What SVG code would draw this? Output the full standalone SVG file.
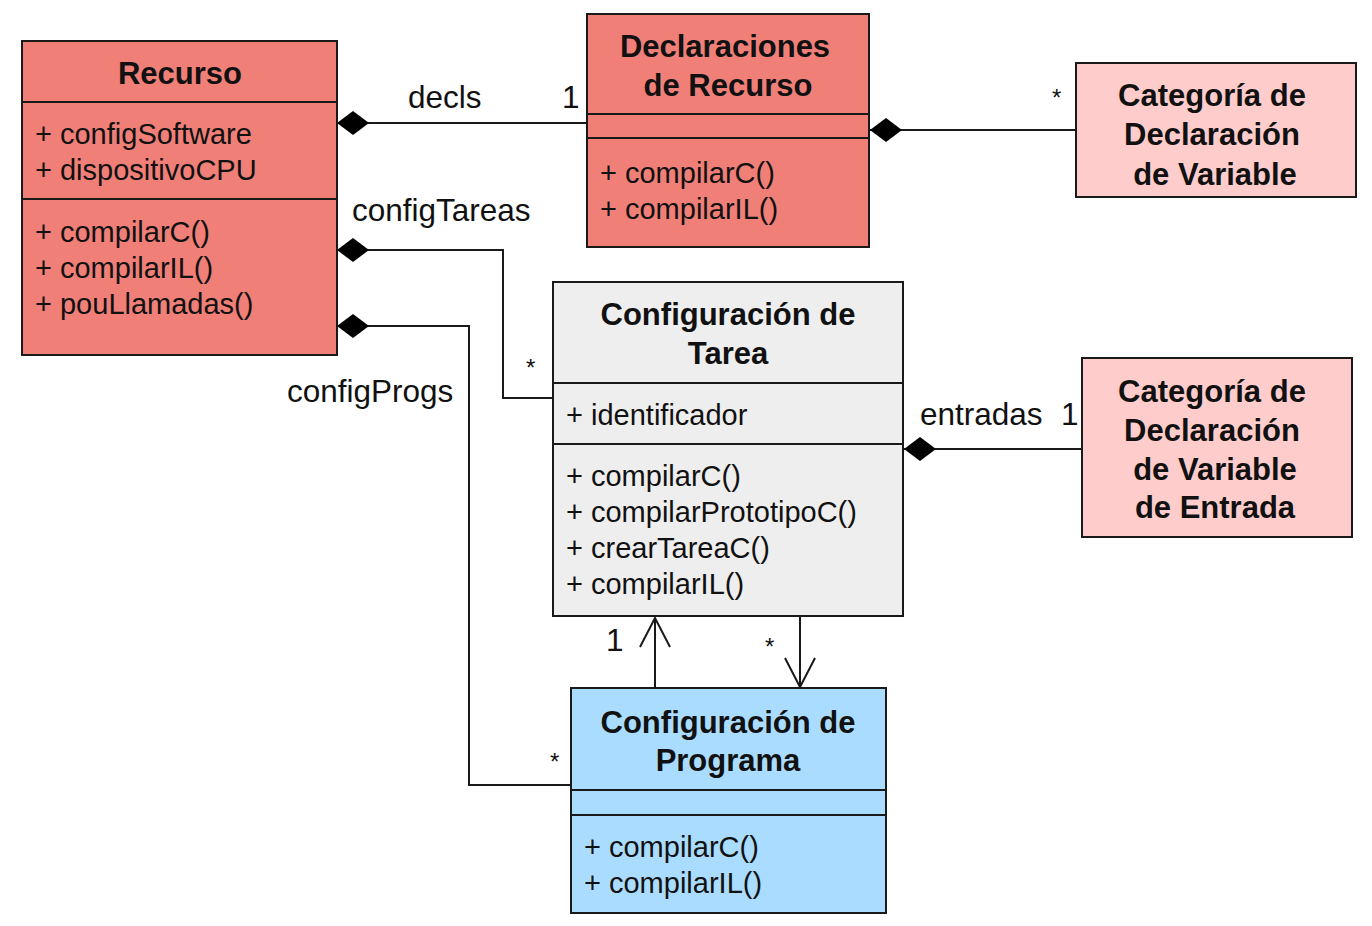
<svg xmlns="http://www.w3.org/2000/svg" width="1372" height="926" viewBox="0 0 1372 926">
<style>
.box{stroke:#1a1a1a;stroke-width:2}
.div{stroke:#1a1a1a;stroke-width:2}
.title{font-family:"Liberation Sans",Arial,sans-serif;font-weight:bold;font-size:31px;fill:#111;text-anchor:middle}
.mem{font-family:"Liberation Sans",Arial,sans-serif;font-size:29px;fill:#111}
.lbl{font-family:"Liberation Sans",Arial,sans-serif;font-size:31.5px;fill:#111}
.star{font-family:"Liberation Sans",Arial,sans-serif;font-size:24px;fill:#111}
.conn{fill:none;stroke:#1a1a1a;stroke-width:2}
.red{fill:#F07F78}
.pink{fill:#FFCCCC}
.gray{fill:#EEEEEE}
.blue{fill:#AADCFF}
</style>
<defs>
<marker id="diamond" markerUnits="userSpaceOnUse" markerWidth="34" markerHeight="26" viewBox="-1 -13 34 26" refX="0" refY="0" orient="auto">
<path d="M0 0 L16 -12 L32 0 L16 12 Z" fill="#000"/>
</marker>
<marker id="open" markerUnits="userSpaceOnUse" markerWidth="34" markerHeight="34" viewBox="-31 -17 33 34" refX="0" refY="0" orient="auto">
<path d="M-29 -15 L0 0 L-29 15" fill="none" stroke="#1a1a1a" stroke-width="2"/>
</marker>
</defs>
<rect width="1372" height="926" fill="#fff"/>

<g id="connectors">
<path class="conn" d="M337 123 L587 123" marker-start="url(#diamond)"/>
<path class="conn" d="M870 130 L1076 130" marker-start="url(#diamond)"/>
<path class="conn" d="M337 250 L503 250 L503 398 L553 398" marker-start="url(#diamond)"/>
<path class="conn" d="M337 326 L469 326 L469 785 L571 785" marker-start="url(#diamond)"/>
<path class="conn" d="M904 449 L1082 449" marker-start="url(#diamond)"/>
<path class="conn" d="M655 688 L655 618" marker-end="url(#open)"/>
<path class="conn" d="M800 616 L800 687" marker-end="url(#open)"/>
<text class="lbl" x="408" y="108">decls</text>
<text class="lbl" x="562" y="108">1</text>
<text class="star" x="1052" y="106">*</text>
<text class="lbl" x="352" y="221">configTareas</text>
<text class="star" x="526" y="376">*</text>
<text class="lbl" x="287" y="402">configProgs</text>
<text class="star" x="550" y="770">*</text>
<text class="lbl" x="920" y="425">entradas</text>
<text class="lbl" x="1061" y="425">1</text>
<text class="lbl" x="606" y="651">1</text>
<text class="star" x="765" y="655">*</text>
</g>

<g id="recurso">
<rect class="box red" x="22" y="41" width="315" height="314"/>
<line class="div" x1="22" y1="102" x2="337" y2="102"/>
<line class="div" x1="22" y1="199" x2="337" y2="199"/>
<text class="title" x="180" y="84">Recurso</text>
<text class="mem" x="35" y="144">+ configSoftware</text>
<text class="mem" x="35" y="180">+ dispositivoCPU</text>
<text class="mem" x="35" y="242">+ compilarC()</text>
<text class="mem" x="35" y="278">+ compilarIL()</text>
<text class="mem" x="35" y="314">+ pouLlamadas()</text>
</g>

<g id="declaraciones">
<rect class="box red" x="587" y="14" width="282" height="233"/>
<line class="div" x1="587" y1="114" x2="869" y2="114"/>
<line class="div" x1="587" y1="138" x2="869" y2="138"/>
<text class="title" x="725" y="57">Declaraciones</text>
<text class="title" x="728" y="96">de Recurso</text>
<text class="mem" x="600" y="183">+ compilarC()</text>
<text class="mem" x="600" y="219">+ compilarIL()</text>
</g>

<g id="categoria-variable">
<rect class="box pink" x="1076" y="63" width="280" height="134"/>
<text class="title" x="1212" y="106">Categoría de</text>
<text class="title" x="1212" y="145">Declaración</text>
<text class="title" x="1215" y="185">de Variable</text>
</g>

<g id="tarea">
<rect class="box gray" x="553" y="282" width="350" height="334"/>
<line class="div" x1="553" y1="383" x2="903" y2="383"/>
<line class="div" x1="553" y1="444" x2="903" y2="444"/>
<text class="title" x="728" y="325">Configuración de</text>
<text class="title" x="728" y="364">Tarea</text>
<text class="mem" x="566" y="425">+ identificador</text>
<text class="mem" x="566" y="486">+ compilarC()</text>
<text class="mem" x="566" y="522">+ compilarPrototipoC()</text>
<text class="mem" x="566" y="558">+ crearTareaC()</text>
<text class="mem" x="566" y="594">+ compilarIL()</text>
</g>

<g id="categoria-entrada">
<rect class="box pink" x="1082" y="358" width="270" height="179"/>
<text class="title" x="1212" y="402">Categoría de</text>
<text class="title" x="1212" y="441">Declaración</text>
<text class="title" x="1215" y="480">de Variable</text>
<text class="title" x="1215" y="518">de Entrada</text>
</g>

<g id="programa">
<rect class="box blue" x="571" y="688" width="315" height="225"/>
<line class="div" x1="571" y1="790" x2="886" y2="790"/>
<line class="div" x1="571" y1="815" x2="886" y2="815"/>
<text class="title" x="728" y="733">Configuración de</text>
<text class="title" x="728" y="771">Programa</text>
<text class="mem" x="584" y="857">+ compilarC()</text>
<text class="mem" x="584" y="893">+ compilarIL()</text>
</g>
</svg>
